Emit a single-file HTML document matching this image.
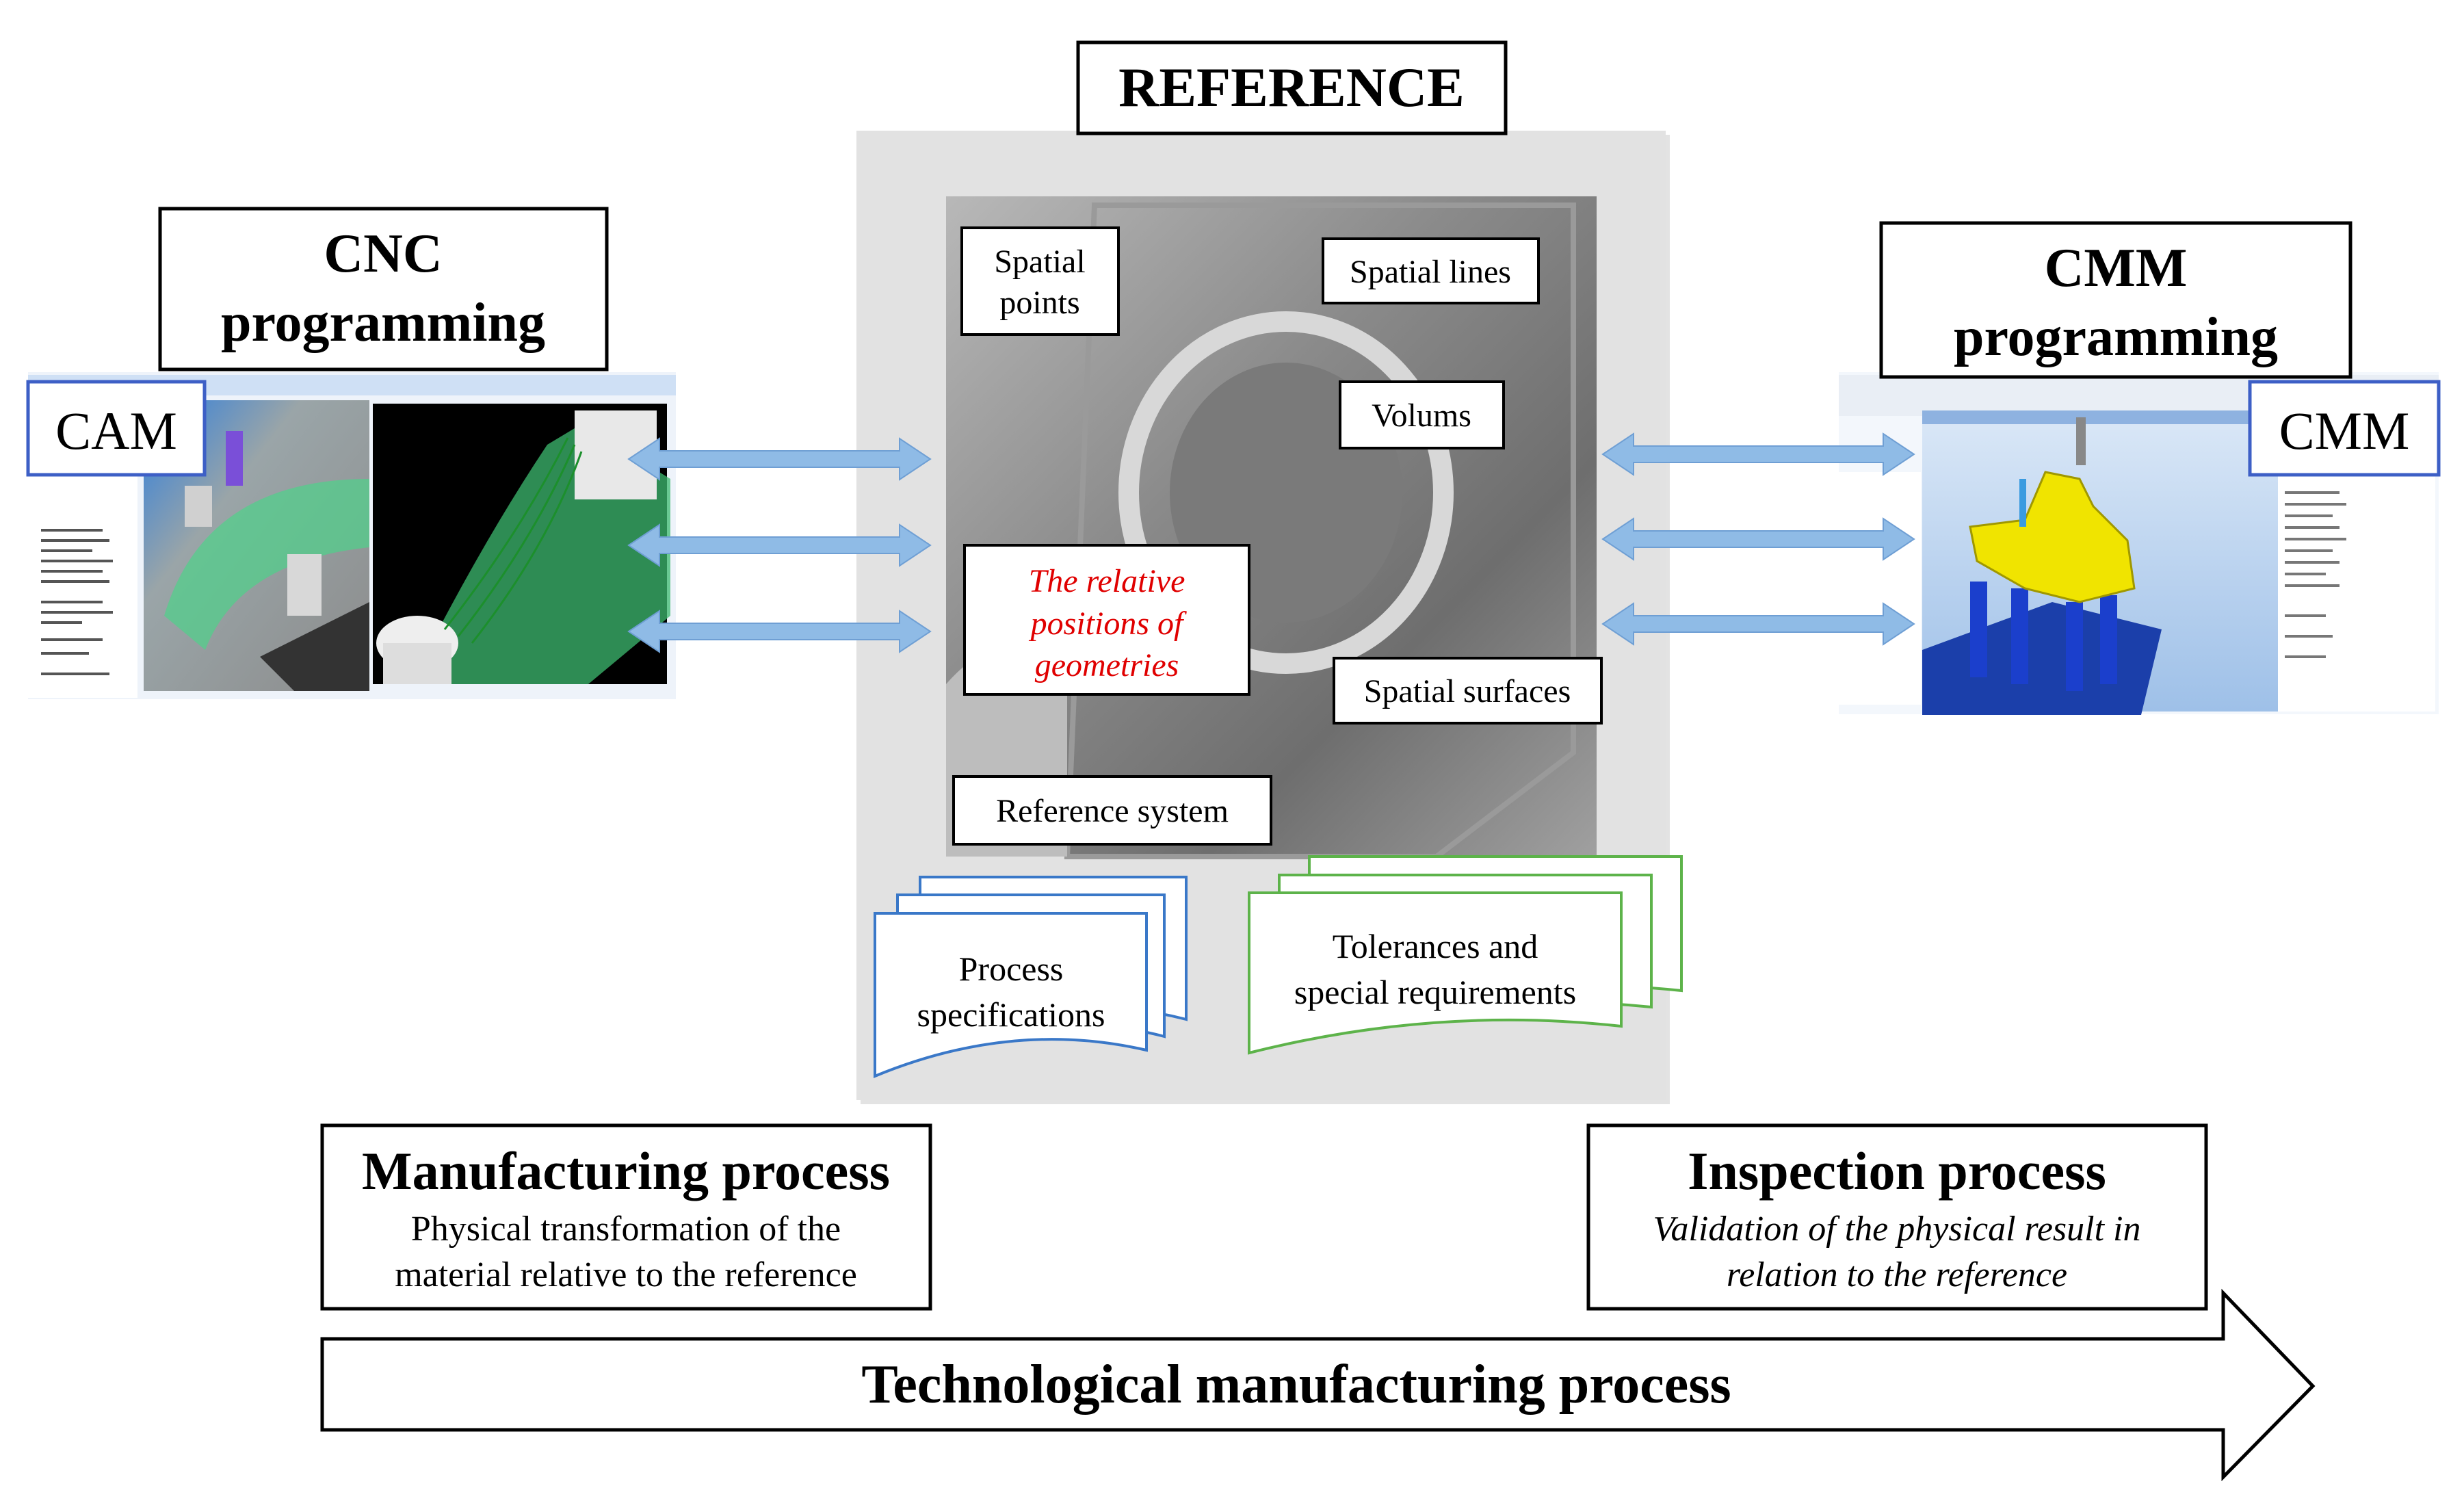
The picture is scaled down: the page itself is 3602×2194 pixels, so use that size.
<!DOCTYPE html>
<html><head><meta charset="utf-8"><style>
html,body{margin:0;padding:0;background:#fff}
svg{display:block}
text{font-family:"Liberation Serif",serif}
</style></head><body>
<svg width="3602" height="2194" viewBox="0 0 3602 2194" xmlns="http://www.w3.org/2000/svg">
<defs>
<linearGradient id="photo" x1="0" y1="0" x2="1" y2="1">
<stop offset="0" stop-color="#b8b8b8"/><stop offset="0.4" stop-color="#8a8a8a"/><stop offset="0.7" stop-color="#6e6e6e"/><stop offset="1" stop-color="#a0a0a0"/>
</linearGradient>
<linearGradient id="cmmview" x1="0" y1="0" x2="0" y2="1">
<stop offset="0" stop-color="#dbe8f7"/><stop offset="1" stop-color="#9ec0e8"/>
</linearGradient>
<linearGradient id="camview" x1="0" y1="0" x2="1" y2="1">
<stop offset="0" stop-color="#2a7de0"/><stop offset="0.35" stop-color="#9aa5a8"/><stop offset="1" stop-color="#8c8c8c"/>
</linearGradient>
</defs>

<!-- gray panel -->
<rect x="1258" y="197" width="1183" height="1417" fill="#d0d0d0" opacity="0.6"/>
<rect x="1252" y="191" width="1183" height="1417" fill="#e2e2e2"/>
<!-- photo -->
<rect x="1383" y="287" width="951" height="965" fill="url(#photo)"/>
<ellipse cx="1880" cy="720" rx="230" ry="250" fill="none" stroke="#d8d8d8" stroke-width="30"/>
<ellipse cx="1880" cy="720" rx="170" ry="190" fill="#7a7a7a"/>
<path d="M1600 300 L2300 300 L2300 1100 L2100 1252 L1560 1252 Z" fill="none" stroke="#9a9a9a" stroke-width="8"/>
<path d="M1383 1000 Q1470 900 1560 980 L1560 1252 L1383 1252 Z" fill="#bdbdbd"/>

<!-- REFERENCE -->
<rect x="1576" y="62" width="625" height="133" fill="#fff" stroke="#000" stroke-width="5"/>
<text x="1888" y="155" font-size="82" font-weight="bold" text-anchor="middle">REFERENCE</text>

<!-- center labels -->
<g fill="#fff" stroke="#000" stroke-width="4">
<rect x="1406" y="333" width="229" height="156"/>
<rect x="1934" y="349" width="315" height="94"/>
<rect x="1959" y="558" width="239" height="97"/>
<rect x="1410" y="797" width="416" height="218"/>
<rect x="1950" y="962" width="391" height="95"/>
<rect x="1394" y="1135" width="464" height="99"/>
</g>
<g font-size="48" text-anchor="middle">
<text x="1520" y="398">Spatial</text><text x="1520" y="458">points</text>
<text x="2091" y="413">Spatial lines</text>
<text x="2078" y="623">Volums</text>
<text x="2145" y="1026">Spatial surfaces</text>
<text x="1626" y="1201">Reference system</text>
<g fill="#e00000" font-style="italic">
<text x="1618" y="865">The relative</text><text x="1618" y="927">positions of</text><text x="1618" y="988">geometries</text>
</g>
</g>

<!-- process specs docs -->
<g fill="#fff" stroke="#3a78c8" stroke-width="4">
<path d="M1345 1282 H1734 V1490 Q1540 1440 1345 1530 Z"/>
<path d="M1312 1308 H1702 V1515 Q1510 1465 1312 1555 Z"/>
<path d="M1279 1335 H1676 V1535 Q1480 1490 1279 1573 Z"/>
</g>
<text x="1478" y="1433" font-size="50" text-anchor="middle">Process</text>
<text x="1478" y="1500" font-size="50" text-anchor="middle">specifications</text>
<!-- tolerances docs -->
<g fill="#fff" stroke="#5db34a" stroke-width="4">
<path d="M1914 1252 H2458 V1448 Q2190 1420 1914 1490 Z"/>
<path d="M1870 1279 H2414 V1472 Q2140 1445 1870 1515 Z"/>
<path d="M1826 1305 H2370 V1500 Q2100 1470 1826 1539 Z"/>
</g>
<text x="2098" y="1400" font-size="50" text-anchor="middle">Tolerances and</text>
<text x="2098" y="1467" font-size="50" text-anchor="middle">special requirements</text>

<!-- CAM screenshot -->
<rect x="41" y="544" width="947" height="478" fill="#eef3fa"/>
<rect x="41" y="548" width="947" height="30" fill="#cfe0f5"/>
<rect x="41" y="560" width="160" height="460" fill="#fff"/>
<g stroke="#555" stroke-width="4">
<line x1="60" y1="775" x2="150" y2="775"/><line x1="60" y1="790" x2="160" y2="790"/><line x1="60" y1="805" x2="135" y2="805"/>
<line x1="60" y1="820" x2="165" y2="820"/><line x1="60" y1="835" x2="150" y2="835"/><line x1="60" y1="850" x2="160" y2="850"/>
<line x1="60" y1="880" x2="150" y2="880"/><line x1="60" y1="895" x2="165" y2="895"/><line x1="60" y1="910" x2="120" y2="910"/>
<line x1="60" y1="935" x2="150" y2="935"/><line x1="60" y1="955" x2="130" y2="955"/><line x1="60" y1="985" x2="160" y2="985"/>
</g>
<rect x="210" y="585" width="330" height="425" fill="url(#camview)"/>
<path d="M240 900 Q300 700 540 700 L540 800 Q350 820 300 950 Z" fill="#4fd28a" opacity="0.7"/>
<rect x="270" y="710" width="40" height="60" fill="#d0d0d0"/>
<rect x="420" y="810" width="50" height="90" fill="#d8d8d8"/>
<rect x="330" y="630" width="25" height="80" fill="#7a4fd8"/>
<path d="M380 960 L540 880 L540 1010 L430 1010 Z" fill="#333"/>
<rect x="545" y="590" width="430" height="410" fill="#000"/>
<path d="M600 1000 Q700 800 800 650 L850 620 L980 700 L980 900 L860 1000 Z" fill="#3dbb70" opacity="0.75"/>
<rect x="840" y="600" width="120" height="130" fill="#e8e8e8"/>
<ellipse cx="610" cy="940" rx="60" ry="40" fill="#eee"/>
<rect x="560" y="940" width="100" height="60" fill="#ddd"/>
<g stroke="#1c8f2c" stroke-width="3" fill="none">
<path d="M650 920 Q760 780 830 640"/><path d="M670 930 Q780 790 840 650"/><path d="M690 940 Q800 800 850 660"/>
</g>

<!-- CMM screenshot -->
<rect x="2688" y="544" width="877" height="500" fill="#f3f7fc"/>
<rect x="2688" y="548" width="877" height="60" fill="#e9eef5"/>
<rect x="2810" y="600" width="520" height="440" fill="url(#cmmview)"/>
<rect x="2810" y="600" width="520" height="20" fill="#8eb2e0"/>
<path d="M2810 950 L3000 880 L3160 920 L3130 1045 L2810 1045 Z" fill="#1b3faa"/>
<rect x="2880" y="850" width="25" height="140" fill="#1b3fcc"/>
<rect x="2940" y="860" width="25" height="140" fill="#1b3fcc"/>
<rect x="3020" y="880" width="25" height="130" fill="#1b3fcc"/>
<rect x="3070" y="870" width="25" height="130" fill="#1b3fcc"/>
<path d="M2880 770 L2960 760 L2990 690 L3040 700 L3060 740 L3110 790 L3120 860 L3040 880 L2960 860 L2890 820 Z" fill="#f0e400" stroke="#a09800" stroke-width="3"/>
<rect x="2952" y="700" width="10" height="70" fill="#3a9be0"/>
<rect x="3035" y="610" width="14" height="70" fill="#888"/>
<rect x="3330" y="600" width="230" height="440" fill="#fff"/>
<g stroke="#777" stroke-width="4">
<line x1="3340" y1="720" x2="3420" y2="720"/><line x1="3340" y1="737" x2="3430" y2="737"/><line x1="3340" y1="754" x2="3410" y2="754"/>
<line x1="3340" y1="771" x2="3420" y2="771"/><line x1="3340" y1="788" x2="3430" y2="788"/><line x1="3340" y1="805" x2="3410" y2="805"/>
<line x1="3340" y1="822" x2="3420" y2="822"/><line x1="3340" y1="839" x2="3400" y2="839"/><line x1="3340" y1="856" x2="3420" y2="856"/>
<line x1="3340" y1="900" x2="3400" y2="900"/><line x1="3340" y1="930" x2="3410" y2="930"/><line x1="3340" y1="960" x2="3400" y2="960"/>
</g>
<rect x="2688" y="690" width="120" height="340" fill="#fff"/>

<!-- CNC programming -->
<rect x="234" y="305" width="653" height="235" fill="#fff" stroke="#000" stroke-width="5"/>
<text x="560" y="397" font-size="80" font-weight="bold" text-anchor="middle">CNC</text>
<text x="560" y="498" font-size="80" font-weight="bold" text-anchor="middle">programming</text>
<rect x="41" y="558" width="258" height="136" fill="#fff" stroke="#3d5fc6" stroke-width="5"/>
<text x="170" y="656" font-size="78" text-anchor="middle">CAM</text>

<!-- CMM programming -->
<rect x="2750" y="326" width="686" height="225" fill="#fff" stroke="#000" stroke-width="5"/>
<text x="3093" y="418" font-size="80" font-weight="bold" text-anchor="middle">CMM</text>
<text x="3093" y="519" font-size="80" font-weight="bold" text-anchor="middle">programming</text>
<rect x="3289" y="558" width="276" height="136" fill="#fff" stroke="#3d5fc6" stroke-width="5"/>
<text x="3427" y="656" font-size="78" text-anchor="middle">CMM</text>

<!-- double arrows -->
<g fill="#8fbbe6" stroke="#6f9fd4" stroke-width="2">
<path d="M919 671 L964 641 L964 659 L1315 659 L1315 641 L1360 671 L1315 701 L1315 683 L964 683 L964 701 Z"/>
<path d="M919 797 L964 767 L964 785 L1315 785 L1315 767 L1360 797 L1315 827 L1315 809 L964 809 L964 827 Z"/>
<path d="M919 923 L964 893 L964 911 L1315 911 L1315 893 L1360 923 L1315 953 L1315 935 L964 935 L964 953 Z"/>
<path d="M2343 664 L2388 634 L2388 652 L2753 652 L2753 634 L2798 664 L2753 694 L2753 676 L2388 676 L2388 694 Z"/>
<path d="M2343 788 L2388 758 L2388 776 L2753 776 L2753 758 L2798 788 L2753 818 L2753 800 L2388 800 L2388 818 Z"/>
<path d="M2343 912 L2388 882 L2388 900 L2753 900 L2753 882 L2798 912 L2753 942 L2753 924 L2388 924 L2388 942 Z"/>
</g>

<!-- process boxes -->
<rect x="471" y="1645" width="889" height="268" fill="#fff" stroke="#000" stroke-width="5"/>
<text x="915" y="1738" font-size="78" font-weight="bold" text-anchor="middle">Manufacturing process</text>
<text x="915" y="1813" font-size="52" text-anchor="middle">Physical transformation of the</text>
<text x="915" y="1880" font-size="52" text-anchor="middle">material relative to the reference</text>
<rect x="2322" y="1645" width="903" height="268" fill="#fff" stroke="#000" stroke-width="5"/>
<text x="2773" y="1738" font-size="78" font-weight="bold" text-anchor="middle">Inspection process</text>
<text x="2773" y="1813" font-size="52" font-style="italic" text-anchor="middle">Validation of the physical result in</text>
<text x="2773" y="1880" font-size="52" font-style="italic" text-anchor="middle">relation to the reference</text>

<!-- big arrow -->
<path d="M471 1957 L3250 1957 L3250 1890 L3381 2026 L3250 2159 L3250 2090 L471 2090 Z" fill="#fff" stroke="#000" stroke-width="5"/>
<text x="1895" y="2050" font-size="80" font-weight="bold" text-anchor="middle">Technological manufacturing process</text>
</svg>
</body></html>
